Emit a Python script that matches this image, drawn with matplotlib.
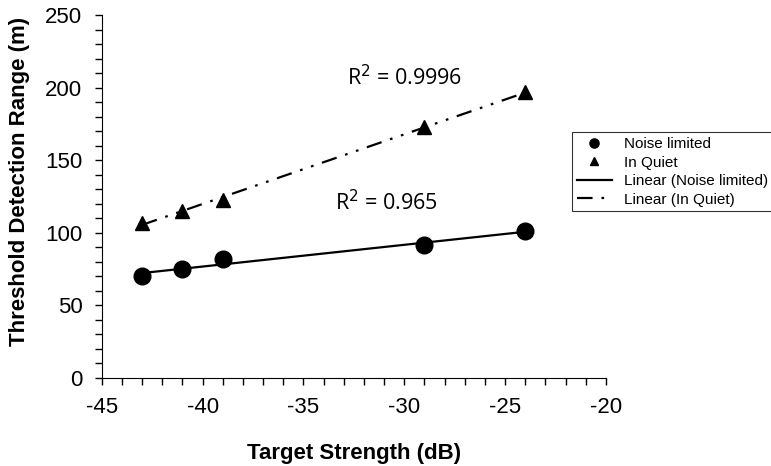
import matplotlib
matplotlib.use("Agg")
import matplotlib.pyplot as plt
import numpy as np
from matplotlib.ticker import MultipleLocator

target_strength = [-43, -41, -39, -29, -24]
noise_limited = [70, 75, 82, 92, 101]
in_quiet = [107, 115, 123, 173, 197]
r2_noise = "R$^2$ = 0.965"
r2_quiet = "R$^2$ = 0.9996"

plt.rcParams["font.family"] = ["Liberation Sans", "DejaVu Sans"]
plt.rcParams["axes.unicode_minus"] = False

fig = plt.figure(figsize=(7.71, 4.66), dpi=100)
ax = fig.add_axes([0.132, 0.189, 0.654, 0.778])

x = np.array(target_strength)
xs = np.array([min(target_strength), max(target_strength)])

ax.plot(x, noise_limited, "o", color="black", markersize=12, label="Noise limited", zorder=3)
ax.plot(x, in_quiet, "^", color="black", markersize=10.5, label="In Quiet", zorder=3)

# excel-style linear trendlines
p1 = np.polyfit(x, noise_limited, 1)
p2 = np.polyfit(x, in_quiet, 1)
ax.plot(xs, np.polyval(p1, xs), "-", color="black", lw=1.6, label="Linear (Noise limited)")
ax.plot(xs, np.polyval(p2, xs), color="black", lw=1.6,
        dashes=(7, 4, 1.2, 4, 1.2, 4), label="Linear (In Quiet)")

ax.text(-30.0, 207, r2_quiet, fontsize=15.5, family="Open Sans", ha="center", va="center")
ax.text(-30.9, 121, r2_noise, fontsize=15.5, family="Open Sans", ha="center", va="center")

ax.set_xlim(-45, -20)
ax.set_ylim(0, 250)
ax.xaxis.set_major_locator(MultipleLocator(5))
ax.xaxis.set_minor_locator(MultipleLocator(1))
ax.yaxis.set_major_locator(MultipleLocator(50))
ax.yaxis.set_minor_locator(MultipleLocator(10))
ax.tick_params(which="both", direction="out", length=5, width=1, labelsize=16)
ax.tick_params(axis="y", pad=9)
ax.tick_params(axis="x", pad=9)
ax.spines["top"].set_visible(False)
ax.spines["right"].set_visible(False)

ax.set_xlabel("Target Strength (dB)", fontsize=16, fontweight="bold", labelpad=18)
ax.set_ylabel("Threshold Detection Range (m)", fontsize=16, fontweight="bold",
              labelpad=11, y=0.541)

leg = fig.legend(loc="upper left", bbox_to_anchor=(0.742, 0.716), fontsize=11,
                 markerscale=0.55, frameon=True, fancybox=False, edgecolor="black",
                 handlelength=2.3, borderpad=0.3, labelspacing=0.3, borderaxespad=0)
leg.get_frame().set_linewidth(0.8)

fig.savefig("out.png", dpi=100)
